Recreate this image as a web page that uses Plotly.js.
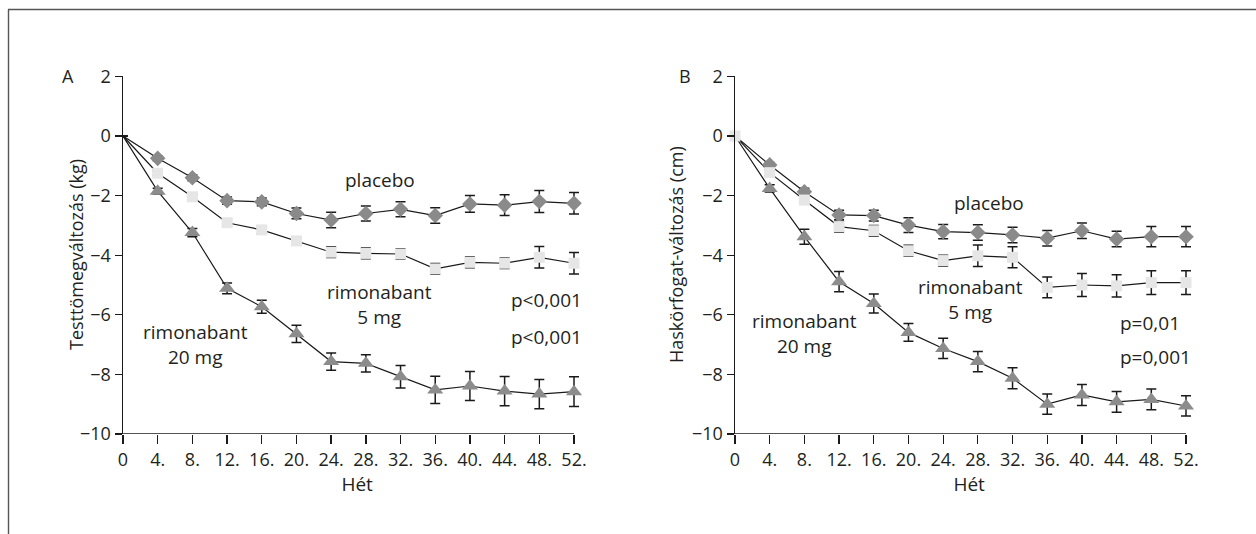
<!DOCTYPE html>
<html>
<head>
<meta charset="utf-8">
<script src="https://cdn.plot.ly/plotly-3.0.1.min.js"></script>
<style>html,body{margin:0;padding:0;background:#fff;}#chart{width:1256px;height:534px;}</style>
</head>
<body>
<div id="chart"></div>
<script>
const weeks = [0, 4, 8, 12, 16, 20, 24, 28, 32, 36, 40, 44, 48, 52];
const tickLabels = ["0", "4.", "8.", "12.", "16.", "20.", "24.", "28.", "32.", "36.", "40.", "44.", "48.", "52."];

// Panel A: weight change (kg)
const placeboA = [0, -0.75, -1.40, -2.17, -2.21, -2.60, -2.82, -2.60, -2.46, -2.67, -2.28, -2.32, -2.20, -2.26];
const placeboA_err = [0, 0.08, 0.10, 0.12, 0.13, 0.18, 0.26, 0.25, 0.25, 0.26, 0.28, 0.35, 0.37, 0.36];
const rimo5A = [0, -1.25, -2.04, -2.91, -3.15, -3.52, -3.90, -3.94, -3.96, -4.46, -4.24, -4.27, -4.07, -4.27];
const rimo5A_err = [0, 0.08, 0.10, 0.12, 0.13, 0.14, 0.18, 0.18, 0.18, 0.18, 0.18, 0.18, 0.36, 0.36];
const rimo20A = [0, -1.85, -3.24, -5.11, -5.73, -6.64, -7.57, -7.63, -8.08, -8.52, -8.39, -8.56, -8.66, -8.58];
const rimo20A_err = [0, 0.10, 0.14, 0.18, 0.22, 0.29, 0.29, 0.29, 0.38, 0.46, 0.49, 0.49, 0.49, 0.50];

// Panel B: waist circumference change (cm)
const placeboB = [0, -0.97, -1.87, -2.65, -2.67, -2.99, -3.21, -3.24, -3.32, -3.43, -3.18, -3.46, -3.38, -3.38];
const placeboB_err = [0, 0.08, 0.12, 0.16, 0.18, 0.25, 0.24, 0.26, 0.26, 0.26, 0.26, 0.26, 0.34, 0.34];
const rimo5B = [0, -1.23, -2.15, -3.04, -3.18, -3.85, -4.18, -4.02, -4.07, -5.08, -5.00, -5.03, -4.92, -4.92];
const rimo5B_err = [0, 0.10, 0.14, 0.18, 0.18, 0.18, 0.18, 0.36, 0.35, 0.35, 0.39, 0.37, 0.40, 0.40];
const rimo20B = [0, -1.76, -3.38, -4.89, -5.62, -6.59, -7.13, -7.57, -8.13, -9.00, -8.69, -8.92, -8.84, -9.06];
const rimo20B_err = [0, 0.12, 0.25, 0.34, 0.32, 0.30, 0.34, 0.34, 0.35, 0.34, 0.35, 0.35, 0.35, 0.34];

const FONT = "Open Sans, Liberation Sans, sans-serif";
const TXT = "#231f20";
const W = 1256, H = 534;
const PXW = 451 / 52;          // pixels per week
const XMAX = 54;               // axis range extended so end markers are not clipped

function lineTrace(xa, ya, y, err) {
  return {
    x: weeks, y: y, xaxis: xa, yaxis: ya, type: "scatter", mode: "lines",
    showlegend: false, hoverinfo: "skip",
    line: {color: "#1a1a1a", width: 1.2},
    error_y: {type: "data", array: err, visible: true, color: "#1a1a1a", thickness: 1.5, width: 5}
  };
}
function markerTrace(xa, ya, y, symbol, color, size, firstSize) {
  return {
    x: weeks, y: y, xaxis: xa, yaxis: ya, type: "scatter", mode: "markers",
    cliponaxis: false, showlegend: false,
    marker: {symbol: symbol, color: color, opacity: 1,
             size: weeks.map((w, i) => i === 0 ? firstSize : size), line: {width: 0}}
  };
}

const traces = [
  lineTrace("x", "y", rimo20A, rimo20A_err),
  lineTrace("x", "y", rimo5A, rimo5A_err),
  lineTrace("x", "y", placeboA, placeboA_err),
  lineTrace("x2", "y2", rimo20B, rimo20B_err),
  lineTrace("x2", "y2", rimo5B, rimo5B_err),
  lineTrace("x2", "y2", placeboB, placeboB_err),
  // markers on overlay axes, so they sit above the error bars
  markerTrace("x3", "y3", rimo20A, "triangle-up", "#8c8c8c", 14, 0),
  markerTrace("x3", "y3", rimo5A, "square", "#e6e6e6", 11, 0),
  markerTrace("x3", "y3", placeboA, "diamond", "#8a8a8a", 12, 0),
  markerTrace("x4", "y4", rimo20B, "triangle-up", "#8c8c8c", 14, 0),
  markerTrace("x4", "y4", placeboB, "diamond", "#8a8a8a", 12, 0),
  markerTrace("x4", "y4", rimo5B, "square", "#e6e6e6", 11, 11)
];

function xDomain(left) { return [left / W, (left + XMAX * PXW) / W]; }
const yDomain = [(H - 434) / H, (H - 76.4) / H];

function xAxis(left, anchor) {
  return {
    domain: xDomain(left), anchor: anchor, range: [0, XMAX], tickmode: "array",
    tickvals: weeks, ticktext: tickLabels, ticks: "outside", ticklen: 9, tickwidth: 1.3, tickcolor: "#1a1a1a",
    showline: false, showgrid: false, zeroline: false,
    tickfont: {family: FONT, size: 18, color: TXT},
    title: {text: "Hét", font: {family: FONT, size: 19, color: TXT}, standoff: 6}
  };
}
function yAxis(anchor) {
  return {
    domain: yDomain, anchor: anchor, range: [-10, 2],
    tickvals: [2, 0, -2, -4, -6, -8, -10], ticks: "outside", ticklen: 7, tickwidth: 1.3, tickcolor: "#1a1a1a",
    showline: true, linecolor: "#1a1a1a", linewidth: 1.5, showgrid: false, zeroline: false,
    tickfont: {family: FONT, size: 18, color: TXT}
  };
}
function overlayX(left, base, anchor) {
  return {domain: xDomain(left), overlaying: base, anchor: anchor, range: [0, XMAX], visible: false, showgrid: false, zeroline: false};
}
function overlayY(base, anchor) {
  return {domain: yDomain, overlaying: base, anchor: anchor, range: [-10, 2], visible: false, showgrid: false, zeroline: false};
}

function ann(xref, yref, x, y, text, xanchor) {
  return {xref: xref, yref: yref, x: x, y: y, text: text, showarrow: false,
          xanchor: xanchor || "center", yanchor: "middle", align: "center",
          font: {family: FONT, size: 19, color: TXT}};
}

const annotations = [
  {xref: "paper", yref: "paper", x: 60 / W, y: (H - 62) / H, text: "A", showarrow: false, font: {family: FONT, size: 18, color: TXT}},
  {xref: "paper", yref: "paper", x: 685 / W, y: (H - 62) / H, text: "B", showarrow: false, font: {family: FONT, size: 18, color: TXT}},
  {xref: "paper", yref: "paper", x: 62 / W, y: (H - 255) / H, text: "Testtömegváltozás (kg)", textangle: -90, showarrow: false, font: {family: FONT, size: 18, color: TXT}},
  {xref: "paper", yref: "paper", x: 676 / W, y: (H - 255) / H, text: "Haskörfogat-változás (cm)", textangle: -90, showarrow: false, font: {family: FONT, size: 18, color: TXT}},
  ann("x", "y", 29.6, -1.48, "placebo"),
  ann("x", "y", 29.6, -5.65, "rimonabant<br>5 mg"),
  ann("x", "y", 8.4, -7.0, "rimonabant<br>20 mg"),
  ann("x", "y", 44.5, -5.5, "p<0,001", "left"),
  ann("x", "y", 44.5, -6.75, "p<0,001", "left"),
  ann("x2", "y2", 29.3, -2.25, "placebo"),
  ann("x2", "y2", 27.1, -5.5, "rimonabant<br>5 mg"),
  ann("x2", "y2", 8.07, -6.63, "rimonabant<br>20 mg"),
  ann("x2", "y2", 44.16, -6.28, "p=0,01", "left"),
  ann("x2", "y2", 44.16, -7.42, "p=0,001", "left")
];

const axisLine = {color: "#1a1a1a", width: 1.5};
const layout = {
  width: W, height: H, autosize: false,
  margin: {l: 0, r: 0, t: 0, b: 0},
  paper_bgcolor: "#ffffff", plot_bgcolor: "rgba(0,0,0,0)",
  showlegend: false,
  xaxis: xAxis(123, "y"),
  yaxis: yAxis("x"),
  xaxis2: xAxis(735, "y2"),
  yaxis2: yAxis("x2"),
  xaxis3: overlayX(123, "x", "y3"),
  yaxis3: overlayY("y", "x3"),
  xaxis4: overlayX(735, "x2", "y4"),
  yaxis4: overlayY("y2", "x4"),
  annotations: annotations,
  shapes: [
    {type: "line", xref: "x", yref: "y", x0: 0, x1: 52, y0: -10, y1: -10, line: axisLine},
    {type: "line", xref: "x2", yref: "y2", x0: 0, x1: 52, y0: -10, y1: -10, line: axisLine},
    {type: "line", xref: "paper", yref: "paper", x0: 8 / W, x1: 1, y0: (H - 9.5) / H, y1: (H - 9.5) / H, line: {color: "#555555", width: 1.6}},
    {type: "line", xref: "paper", yref: "paper", x0: 8.5 / W, x1: 8.5 / W, y0: 0, y1: (H - 9.5) / H, line: {color: "#555555", width: 1.4}}
  ]
};

Plotly.newPlot("chart", traces, layout, {displayModeBar: false, staticPlot: true});
</script>
</body>
</html>
